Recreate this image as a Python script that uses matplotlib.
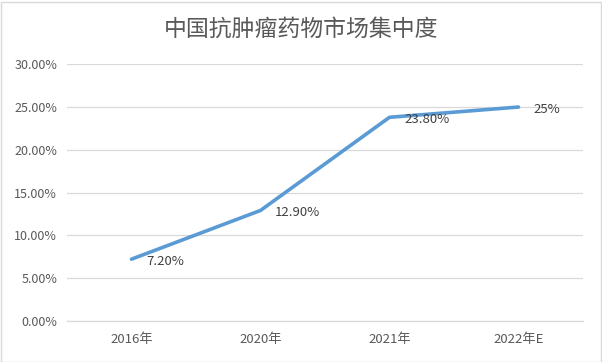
import matplotlib
matplotlib.use("Agg")
import matplotlib.pyplot as plt
from matplotlib.ticker import FuncFormatter
from matplotlib.patches import Rectangle

plt.rcParams['font.family'] = ['Noto Sans CJK SC', 'DejaVu Sans']

title = "中国抗肿瘤药物市场集中度"
categories = ["2016年", "2020年", "2021年", "2022年E"]
values = [7.20, 12.90, 23.80, 25.0]
labels = ["7.20%", "12.90%", "23.80%", "25%"]
yticks = [0, 5, 10, 15, 20, 25, 30]

W, H = 602, 362
fig = plt.figure(figsize=(W / 100, H / 100), dpi=100)
fig.patch.set_facecolor("white")
fig.patches.append(Rectangle((0.5 / W, 0.5 / H), (W - 2) / W, (H - 2) / H,
                             transform=fig.transFigure, fill=False,
                             edgecolor="#D9D9D9", linewidth=1.0))

ax = fig.add_axes([67 / W, (H - 320.7) / H, 516 / W, 256.4 / H])
x = list(range(len(categories)))
ax.plot(x, values, color="#5B9BD5", linewidth=2.6, solid_capstyle="round",
        solid_joinstyle="round", zorder=3)

for xi, v, lab in zip(x, values, labels):
    ax.annotate(lab, (xi, v), xytext=(10.5, -1.5), textcoords="offset points",
                ha="left", va="center", fontsize=9.5, color="#404040", zorder=4)

ax.set_xlim(-0.5, len(categories) - 0.5)
ax.set_ylim(0, 30)
ax.set_yticks(yticks)
ax.yaxis.set_major_formatter(FuncFormatter(lambda v, p: f"{v:.2f}%"))
ax.set_xticks(x)
ax.set_xticklabels(categories)
ax.grid(axis="y", color="#D9D9D9", linewidth=0.9)
ax.set_axisbelow(True)
for s in ["top", "right", "left"]:
    ax.spines[s].set_visible(False)
ax.spines["bottom"].set_color("#D9D9D9")
ax.spines["bottom"].set_linewidth(0.9)
ax.tick_params(axis="both", length=0, labelsize=9, colors="#595959")
ax.tick_params(axis="x", labelsize=9.5)
ax.tick_params(axis="y", pad=7)
ax.tick_params(axis="x", pad=9)

fig.text(0.5, 1 - 29 / H, title, ha="center", va="center", fontsize=16.5,
         color="#595959")

fig.savefig("out.png", dpi=100, facecolor="white")
